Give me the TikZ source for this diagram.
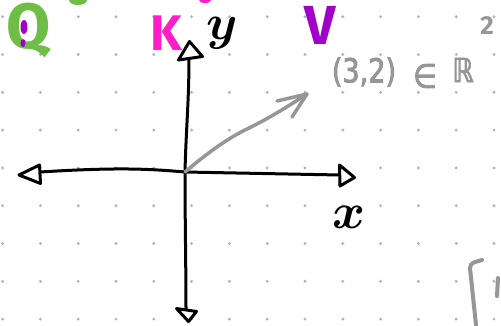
\documentclass[tikz,border=0pt]{standalone}
\usepackage{fix-cm}
\usepackage{amsmath}
\usepackage{amssymb}
\usepackage{fontspec}
\newfontfamily\handfont{Fira Sans}
\newfontfamily\grayfont[FakeStretch=0.82,FakeBold=2.5]{DejaVu Sans}
\definecolor{dotblue}{RGB}{165,180,215}
\definecolor{qgreen}{RGB}{110,190,70}
\definecolor{kpink}{RGB}{255,30,200}
\definecolor{vpurple}{RGB}{160,0,200}
\definecolor{pgray}{RGB}{150,150,150}
\tikzset{
  axisline/.style={line width=3pt, line cap=round, line join=round, black},
  axishead/.style={line width=3pt, line join=round, black, fill=white},
  vecline/.style={line width=3.5pt, line cap=round, line join=round, pgray},
  graytext/.style={text=pgray, inner sep=0pt, font=\grayfont\fontsize{33}{33}\selectfont},
  marker/.style={inner sep=0pt, font=\handfont\bfseries\fontsize{50}{50}\selectfont},
}
\begin{document}
\begin{tikzpicture}[x=1pt,y=-1pt]
\useasboundingbox (0,0) rectangle (501,325);
\fill[white] (0,0) rectangle (501,325);
% dot grid
\foreach \i in {0,...,13} {
  \foreach \j in {0,...,8} {
    \fill[dotblue] ({2.6+37.8*\i},{16.7+37.8*\j}) circle (1.6);
  }
}
% partial blobs at the top edge
\begin{scope}
\clip (0,0) rectangle (501,325);
\fill[qgreen] (78,0) ellipse (9 and 5);
\fill[kpink] (205,0) ellipse (6 and 3);
\end{scope}
% coordinates
\coordinate (O) at (185,172);
\coordinate (Lb) at (40,172);
\coordinate (Rb) at (340,175);
\coordinate (Tb) at (189,58);
\coordinate (Bb) at (186,309);
\coordinate (P) at (307,94);
% axes
\draw[axisline] (O) .. controls (150,169) and (120,167) .. (Lb);
\draw[axisline] (O) -- (Rb);
\draw[axisline] (O) .. controls (186,130) and (189,100) .. (Tb);
\draw[axisline] (O) .. controls (185,220) and (186,270) .. (Bb);
% arrowheads
\draw[axishead] (19,175) -- (39.5,165) -- (40.5,183.5) -- cycle;
\draw[axishead] (339.5,165) -- (354.5,177.5) -- (340,186) -- cycle;
\draw[axishead] (178.5,60) -- (189.5,41.5) -- (202.5,56.5) -- cycle;
\draw[axishead] (176.5,308.5) -- (196.5,311.5) -- (188.5,321.5) -- cycle;
% vector
\draw[vecline] (O) .. controls (205,155) and (225,140) .. (245,130) .. controls (270,118) and (290,105) .. (P);
\draw[vecline] (277,101) -- (P) -- (292,117);
% labels
\node[marker, text=qgreen, font=\handfont\bfseries\fontsize{64}{64}\selectfont] (q) at (29,30) {Q};
\fill[vpurple] (24,27) ellipse (3.5 and 7);
\fill[vpurple] (23,43) ellipse (2.5 and 4);
\node[marker, text=kpink] (k) at (166,33) {K};
\node[marker, text=vpurple, font=\handfont\bfseries\fontsize{55}{55}\selectfont] (v) at (320,25) {V};
\node[inner sep=0pt, font=\fontsize{50}{50}\selectfont] (ylab) at (222,33) {$\boldsymbol{y}$};
\node[inner sep=0pt, font=\fontsize{50}{50}\selectfont] (xlab) at (349,217) {$\boldsymbol{x}$};
\node[graytext] (pt) at (364,72) {(3,2)};
\node[graytext] (in) at (425,76) {∈};
\node[graytext] (rr) at (463,70) {ℝ};
\node[graytext, font=\handfont\bfseries\fontsize{26}{26}\selectfont] (sq) at (487,26) {2};
% bottom-right bracket
\draw[line width=4pt, pgray, line cap=round, line join=round] (482,260) .. controls (476,262) and (470,262) .. (470,268) -- (476,325);
\draw[line width=4pt, pgray, line cap=round] (498,278) -- (497,296);
\end{tikzpicture}
\end{document}
